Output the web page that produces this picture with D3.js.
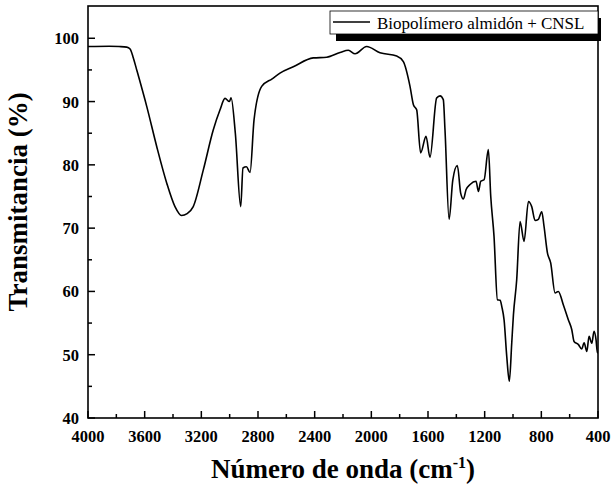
<!DOCTYPE html>
<html>
<head>
<meta charset="utf-8">
<script src="https://cdn.jsdelivr.net/npm/d3@7"></script>
<style>
  html, body { margin: 0; padding: 0; background: #fff; }
  svg { display: block; }
  text { font-family: "Liberation Serif", "Times New Roman", serif; fill: #000; }
</style>
</head>
<body>
<svg id="chart" width="613" height="486"></svg>
<script>
// FTIR spectrum: wavenumber (cm-1) and transmittance (%)
const wavenumber = [
  4000, 3850, 3780, 3727, 3703, 3680, 3656, 3585, 3515, 3444, 3386, 3340,
  3300, 3257, 3186, 3116, 3068, 3033, 3002, 2990, 2960, 2922, 2906, 2882,
  2856, 2828, 2774, 2700, 2645, 2551, 2410, 2315, 2221, 2162, 2115, 2033,
  1939, 1821, 1774, 1727, 1703, 1680, 1652, 1614, 1586, 1539, 1515, 1492,
  1480, 1451, 1425, 1393, 1369, 1350, 1331, 1303, 1261, 1244, 1228, 1204,
  1174, 1157, 1134, 1110, 1091, 1079, 1063, 1044, 1026, 1009, 997, 974,
  950, 922, 891, 868, 844, 821, 797, 781, 757, 734, 703, 680,
  645, 609, 585, 569, 538, 515, 498, 479, 463, 444, 428, 414, 404, 400
];
const transmittance = [
  98.7, 98.75, 98.7, 98.6, 98.3, 96.9, 95.0, 89.2, 82.9, 77.1, 73.4, 72.0,
  72.3, 73.4, 79.2, 85.5, 88.7, 90.5, 90.0, 90.6, 85.0, 73.4, 79.5, 79.7,
  78.8, 87.1, 92.4, 93.6, 94.5, 95.5, 96.9, 97.0, 97.75, 98.1, 97.55, 98.7,
  97.7, 97.2, 96.3, 92.4, 89.5, 88.7, 81.9, 84.5, 81.2, 90.55, 90.9, 90.3,
  85.5, 71.4, 77.6, 79.9, 75.5, 74.6, 76.1, 76.9, 77.4, 75.8, 77.4, 77.65,
  82.4, 75.0, 68.7, 58.7, 58.6, 57.6, 55.5, 49.7, 45.8, 51.8, 56.3, 61.8,
  71.05, 67.9, 74.2, 73.4, 71.2, 71.4, 72.6, 70.3, 66.1, 64.5, 59.75, 60.0,
  57.9, 55.5, 53.95, 52.1, 51.6, 50.9, 51.9, 50.5, 52.9, 51.8, 53.7, 52.4, 50.3, 50.3
];
const xTicks = [4000, 3600, 3200, 2800, 2400, 2000, 1600, 1200, 800, 400];
const yTicks = [40, 50, 60, 70, 80, 90, 100];
const seriesName = "Biopolímero almidón + CNSL";

const svg = d3.select("#chart");
const plot = { left: 88, right: 598, top: 6, bottom: 418 };

const x = d3.scaleLinear().domain([4000, 400]).range([plot.left, plot.right]);
const y = d3.scaleLinear().domain([40, 105.1]).range([plot.bottom, plot.top]);

const data = wavenumber.map((w, i) => ({ w, t: transmittance[i] }));

// spectrum line
const line = d3.line()
  .x(d => x(d.w))
  .y(d => y(d.t))
  .curve(d3.curveMonotoneX);

svg.append("path")
  .datum(data)
  .attr("d", line)
  .attr("fill", "none")
  .attr("stroke", "#000")
  .attr("stroke-width", 1.6)
  .attr("stroke-linejoin", "round");

// bottom axis: major ticks labelled, minor ticks in between, pointing inward
const xMinor = d3.range(4000, 399, -200);
svg.append("g")
  .selectAll("line")
  .data(xMinor)
  .join("line")
  .attr("x1", d => x(d)).attr("x2", d => x(d))
  .attr("y1", plot.bottom)
  .attr("y2", d => plot.bottom - (xTicks.includes(d) ? 7 : 4))
  .attr("stroke", "#000").attr("stroke-width", 1.5);

svg.append("g")
  .selectAll("text")
  .data(xTicks)
  .join("text")
  .attr("x", d => x(d))
  .attr("y", 442)
  .attr("text-anchor", "middle")
  .attr("font-size", 16.5)
  .attr("font-weight", "bold")
  .text(d => d);

// left axis
const yMinor = d3.range(40, 105, 5);
svg.append("g")
  .selectAll("line")
  .data(yMinor)
  .join("line")
  .attr("y1", d => y(d)).attr("y2", d => y(d))
  .attr("x1", plot.left)
  .attr("x2", d => plot.left + (yTicks.includes(d) ? 7 : 4))
  .attr("stroke", "#000").attr("stroke-width", 1.5);

svg.append("g")
  .selectAll("text")
  .data(yTicks)
  .join("text")
  .attr("x", 79)
  .attr("y", d => y(d) + 6)
  .attr("text-anchor", "end")
  .attr("font-size", 16.5)
  .attr("font-weight", "bold")
  .text(d => d);

// frame
svg.append("rect")
  .attr("x", plot.left).attr("y", plot.top)
  .attr("width", plot.right - plot.left).attr("height", plot.bottom - plot.top)
  .attr("fill", "none")
  .attr("stroke", "#000")
  .attr("stroke-width", 1.6);

// axis titles
svg.append("text")
  .attr("transform", "translate(27, 202) rotate(-90)")
  .attr("text-anchor", "middle")
  .attr("font-size", 27)
  .attr("font-weight", "bold")
  .text("Transmitancia (%)");

const xt = svg.append("text")
  .attr("x", (plot.left + plot.right) / 2)
  .attr("y", 478)
  .attr("text-anchor", "middle")
  .attr("font-size", 27)
  .attr("font-weight", "bold");
xt.append("tspan").text("Número de onda (cm");
xt.append("tspan").attr("font-size", 16).attr("dy", -10).text("-1");
xt.append("tspan").attr("dy", 10).text(")");

// legend with drop shadow
const lg = { x: 330, y: 11, w: 268, h: 23 };
svg.append("rect")
  .attr("x", lg.x + 6).attr("y", lg.y + 7)
  .attr("width", lg.w - 3).attr("height", lg.h)
  .attr("fill", "#000");
svg.append("rect")
  .attr("x", lg.x).attr("y", lg.y)
  .attr("width", lg.w).attr("height", lg.h)
  .attr("fill", "#fff")
  .attr("stroke", "#000").attr("stroke-width", 0.8);
svg.append("line")
  .attr("x1", lg.x + 3).attr("x2", lg.x + 40)
  .attr("y1", lg.y + 11).attr("y2", lg.y + 11)
  .attr("stroke", "#000").attr("stroke-width", 1.6);
svg.append("text")
  .attr("x", lg.x + 47)
  .attr("y", lg.y + 18)
  .attr("font-size", 17)
  .text(seriesName);
</script>
</body>
</html>
